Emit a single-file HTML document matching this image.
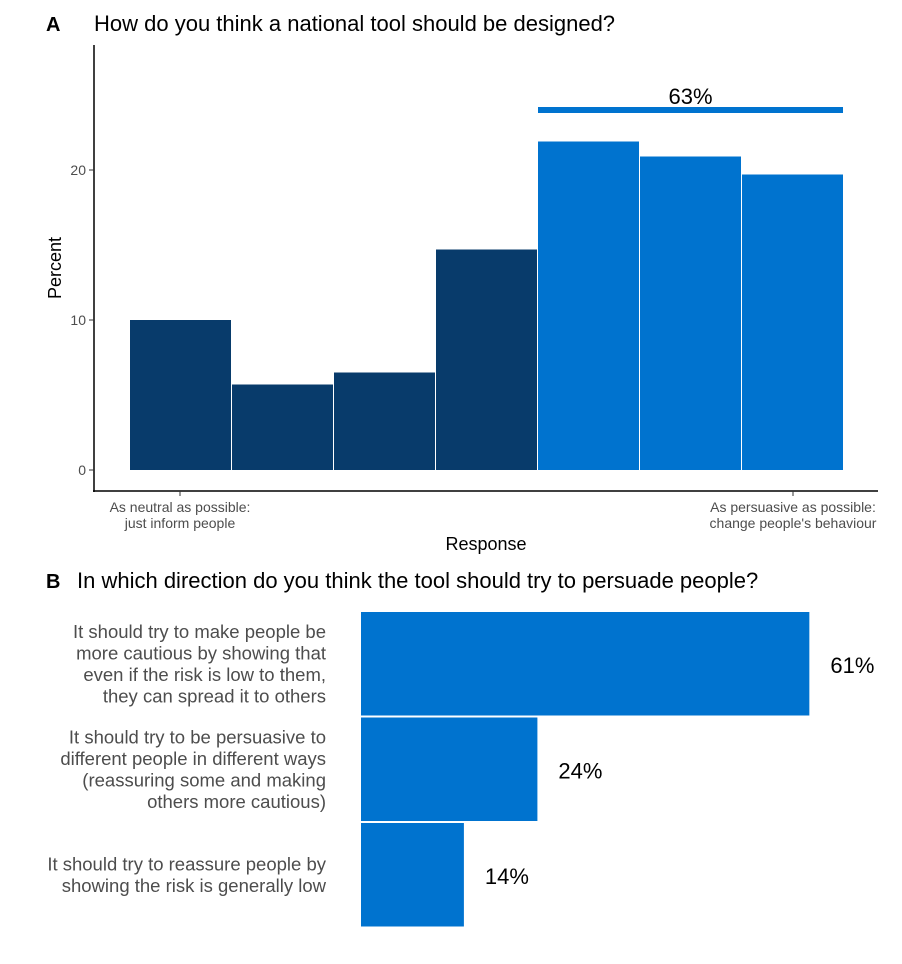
<!DOCTYPE html>
<html><head><meta charset="utf-8"><style>
body{margin:0;background:#fff;}
svg{display:block;font-family:"Liberation Sans",Arial,sans-serif;}
</style></head><body>
<svg id="chart" width="902" height="964" viewBox="0 0 902 964">
<text x="46" y="31" font-size="20" font-weight="bold" fill="#000">A</text>
<text x="94" y="31" font-size="22" fill="#000">How do you think a national tool should be designed?</text>
<text x="46" y="588" font-size="20" font-weight="bold" fill="#000">B</text>
<text x="77" y="588" font-size="22" fill="#000">In which direction do you think the tool should try to persuade people?</text>
<g id="pa"></g>
<g id="pb"></g>
</svg>
<script>
const catsA = [1,2,3,4,5,6,7];
const valsA = [10.0, 5.7, 6.5, 14.7, 21.9, 20.9, 19.7];
const ticksA = [0,10,20];
const highlightLabel = "63%";
const catsB = ["It should try to make people be|more cautious by showing that|even if the risk is low to them,|they can spread it to others",
 "It should try to be persuasive to|different people in different ways|(reassuring some and making|others more cautious)",
 "It should try to reassure people by|showing the risk is generally low"];
const valsB = [61, 24, 14];
const labelsB = ["61%","24%","14%"];

const NS="http://www.w3.org/2000/svg";
function mk(parent,tag,attrs,text){const e=document.createElementNS(NS,tag);for(const k in attrs)e.setAttribute(k,attrs[k]);if(text!=null)e.textContent=text;parent.appendChild(e);return e;}

// Panel A
const pa=document.getElementById('pa');
const yA=v=>470-v*15;
const xA=i=>130+(i-1)*102;
mk(pa,'line',{x1:94,y1:45,x2:94,y2:492,stroke:'#000','stroke-width':1.5});
mk(pa,'line',{x1:93,y1:491,x2:878,y2:491,stroke:'#000','stroke-width':1.5});
ticksA.forEach(t=>{
  const tl=mk(pa,'line',{x1:89,y1:yA(t),x2:94,y2:yA(t),stroke:'#333'});
  
  
  const tx=mk(pa,'text',{x:86,y:yA(t)+5,'font-size':14,fill:'#4d4d4d','text-anchor':'end'},String(t));
  
  
});
catsA.forEach((c,i)=>{
  const r=mk(pa,'rect',{x:xA(c),y:yA(valsA[i]),width:101,height:yA(0)-yA(valsA[i]),fill:c>=5?'#0073cf':'#083b6b'});
  
  
});
const hl=mk(pa,'rect',{x:xA(5),y:107,width:xA(7)+101-xA(5),height:6,fill:'#0073cf'});


const hlt=mk(pa,'text',{x:(xA(5)+xA(7)+101)/2,y:104,'font-size':22,fill:'#000','text-anchor':'middle'},highlightLabel);


[[180,"As neutral as possible:","just inform people"],[793,"As persuasive as possible:","change people's behaviour"]].forEach(([x,a,b])=>{
  mk(pa,'line',{x1:x,y1:491,x2:x,y2:496,stroke:'#333'});
  const t=mk(pa,'text',{'font-size':14,fill:'#4d4d4d','text-anchor':'middle'});
  
  
  mk(t,'tspan',{x:x,y:512},a);mk(t,'tspan',{x:x,y:528},b);
});
const xt=mk(pa,'text',{x:486,y:550,'font-size':18,fill:'#000','text-anchor':'middle'},'Response');


const yt=mk(pa,'text',{x:0,y:0,'font-size':18,fill:'#000','text-anchor':'middle',transform:'translate(61,268) rotate(-90)'},'Percent');



// Panel B
const pb=document.getElementById('pb');
const xB=v=>361+v*7.35;
const yB=i=>612+i*105.5;
catsB.forEach((c,i)=>{
  const r=mk(pb,'rect',{x:361,y:yB(i),width:xB(valsB[i])-361,height:103.5,fill:'#0073cf'});
  
  
  const lab=mk(pb,'text',{x:xB(valsB[i])+21,y:yB(i)+61,'font-size':22,fill:'#000'},labelsB[i]);
  
  
  const lines=c.split('|');
  const t=mk(pb,'text',{'font-size':18.5,fill:'#4d4d4d','text-anchor':'end'});
  
  
  const cy=yB(i)+52, lh=21.5;
  lines.forEach((l,j)=>mk(t,'tspan',{x:326,y:cy-(lines.length-1)*lh/2+j*lh+6},l));
});
</script>
</body></html>
